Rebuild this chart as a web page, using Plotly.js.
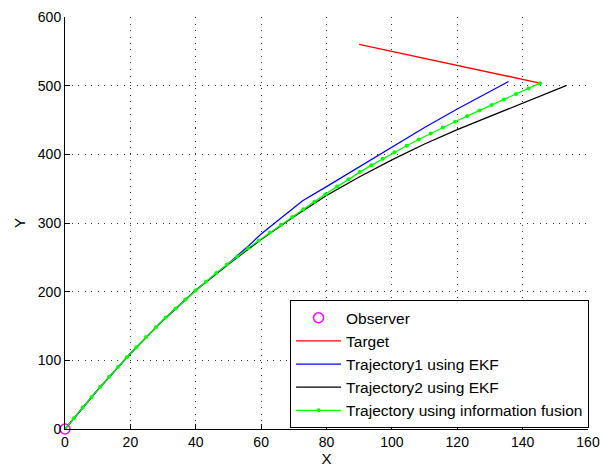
<!DOCTYPE html>
<html>
<head>
<meta charset="utf-8">
<script src="https://cdn.plot.ly/plotly-3.0.1.min.js"></script>
<style>html,body{margin:0;padding:0;background:#fff;}#chart{width:601px;height:468px;}</style>
</head>
<body>
<div id="chart"></div>
<script>
// Observer
var observerX = [0];
var observerY = [0];
// Target
var targetX = [90, 146];
var targetY = [560, 503];
// Trajectory1 using EKF
var traj1X = [0, 10, 20, 30, 40, 50, 56, 60, 66, 72.7, 80, 90, 100, 110, 120, 130, 135.7];
var traj1Y = [0, 57, 110, 158.5, 202, 241, 266, 284, 307, 332.5, 353, 382, 411, 439, 466, 492, 506];
// Trajectory2 using EKF
var traj2X = [0, 10, 20, 30, 40, 50, 60, 70, 80, 90, 100, 110, 120, 130, 140, 150, 153.3];
var traj2Y = [0, 57, 110, 158.5, 202, 240, 276, 309, 340, 367, 392, 415, 436, 455, 474, 493, 500];
// Trajectory using information fusion
var fusionX = [0, 2.7, 5.4, 8.1, 10.8, 13.5, 16.2, 18.9, 21.8, 24.8, 27.8, 30.8, 33.8, 36.8, 39.9,
  43.1, 46.3, 49.5, 52.7, 56.0, 59.3, 62.7, 66.1, 69.5, 72.9, 76.3, 79.7, 83.2, 86.7, 90.2, 93.7,
  97.2, 100.8, 104.5, 108.2, 111.9, 115.6, 119.3, 123.0, 126.8, 130.5, 134.3, 138.0, 141.8, 145.3];
var fusionY = [0, 15.8, 31.3, 46.5, 61.4, 76.0, 90.3, 104.4, 119.1, 133.9, 148.3, 162.2, 175.6, 188.6, 201.6,
  214.5, 227.1, 239.4, 251.2, 263.1, 274.6, 286.1, 297.6, 308.9, 320.0, 331.1, 342.0, 353.1, 363.8, 374.1, 384.0,
  393.6, 403.1, 412.5, 421.6, 430.5, 439.1, 447.5, 455.6, 463.8, 471.8, 480.0, 487.8, 496.0, 503.7];

var xTicks = [0, 20, 40, 60, 80, 100, 120, 140, 160];
var yTicks = [0, 100, 200, 300, 400, 500, 600];

var traces = [
  {x: observerX, y: observerY, name: 'Observer', mode: 'markers', type: 'scatter', cliponaxis: false,
   marker: {symbol: 'circle-open', size: 10, color: '#ff00ff', line: {width: 1.5, color: '#ff00ff'}}},
  {x: targetX, y: targetY, name: 'Target', mode: 'lines', type: 'scatter',
   line: {color: '#ff0000', width: 1.3}},
  {x: traj1X, y: traj1Y, name: 'Trajectory1 using EKF', mode: 'lines', type: 'scatter',
   line: {color: '#0000ff', width: 1.3}},
  {x: traj2X, y: traj2Y, name: 'Trajectory2 using EKF', mode: 'lines', type: 'scatter',
   line: {color: '#000000', width: 1.3}},
  {x: fusionX, y: fusionY, name: 'Trajectory using information fusion', mode: 'lines+markers', type: 'scatter',
   line: {color: '#00ff00', width: 1.3}, marker: {color: '#00ff00', size: 4}}
];

var axisCommon = {
  showline: true, linecolor: '#000', linewidth: 1, mirror: false,
  ticks: 'inside', ticklen: 5, tickcolor: '#000', tickwidth: 1,
  showgrid: true, gridcolor: '#333', gridwidth: 1, griddash: '1px,5.5px',
  zeroline: false, tickfont: {family: 'Liberation Sans, Arial, sans-serif', size: 14, color: '#000'}
};

var layout = {
  width: 601, height: 468,
  margin: {l: 65, r: 13, t: 17, b: 39},
  paper_bgcolor: '#fff', plot_bgcolor: '#fff',
  showlegend: true,
  xaxis: Object.assign({}, axisCommon, {
    range: [0, 160], tickvals: xTicks, ticktext: xTicks.map(String),
    title: {text: 'X', font: {family: 'Liberation Sans, Arial, sans-serif', size: 15, color: '#000'}, standoff: 4}
  }),
  yaxis: Object.assign({}, axisCommon, {
    range: [0, 600], tickvals: yTicks, ticktext: yTicks.map(String),
    title: {text: 'Y', font: {family: 'Liberation Sans, Arial, sans-serif', size: 15, color: '#000'}, standoff: 8}
  }),
  legend: {
    x: 1.002, y: 0.002, xanchor: 'right', yanchor: 'bottom',
    bgcolor: '#fff', bordercolor: '#000', borderwidth: 1,
    font: {family: 'Liberation Sans, Arial, sans-serif', size: 15.5, color: '#000'},
    tracegroupgap: 0, itemwidth: 45
  }
};

Plotly.newPlot('chart', traces, layout, {displayModeBar: false, staticPlot: true});
</script>
</body>
</html>
